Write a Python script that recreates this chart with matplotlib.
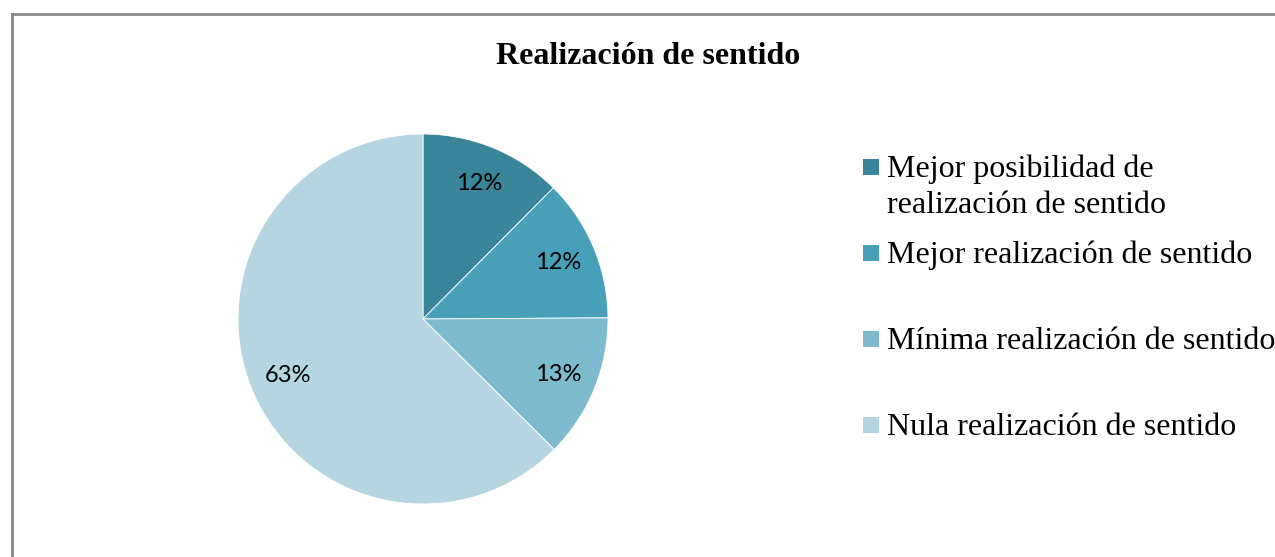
import matplotlib.pyplot as plt
from matplotlib.patches import Rectangle

title = 'Realización de sentido'
categories = ['Mejor posibilidad de\nrealización de sentido',
              'Mejor realización de sentido',
              'Mínima realización de sentido',
              'Nula realización de sentido']
values = [12.45, 12.45, 12.55, 62.55]
colors = ['#3a8599', '#47a0b8', '#7dbace', '#b5d5e0']

W, H = 1275, 557
fig = plt.figure(figsize=(W / 100, H / 100), dpi=100)

# pie axes: center (423, 319) px, radius 185 px
cx, cy, r = 423, 319, 185
ax = fig.add_axes([(cx - r) / W, (H - cy - r) / H, 2 * r / W, 2 * r / H])
ax.pie(values, colors=colors, startangle=90, counterclock=False,
       autopct='%.0f%%', pctdistance=0.79,
       wedgeprops=dict(edgecolor='white', linewidth=0.6),
       textprops=dict(fontsize=17, family='Lato', color='black'))
ax.set_xlim(-1, 1)
ax.set_ylim(-1, 1)

fig.text(648 / W, 1 - 64 / H, title, ha='center', va='baseline',
         fontsize=23, fontweight='bold', family='Liberation Serif')

# legend drawn by hand to match the uneven spacing of the original
square_y = [167, 253, 339, 425]
line_step = 36
for lab, col, sy in zip(categories, colors, square_y):
    fig.patches.append(Rectangle((863 / W, 1 - (sy + 8) / H), 16 / W, 16 / H,
                                 transform=fig.transFigure, facecolor=col,
                                 edgecolor='none'))
    for i, line in enumerate(lab.split('\n')):
        fig.text(887 / W, 1 - (sy + 10 + i * line_step) / H, line,
                 ha='left', va='baseline', fontsize=23,
                 family='Liberation Serif')

# chart border (top and left visible)
fig.add_artist(plt.Line2D([11.5 / W, 11.5 / W], [0, 1 - 13.5 / H],
                          transform=fig.transFigure, color='#888888', lw=2))
fig.add_artist(plt.Line2D([11.5 / W, 1], [1 - 13.5 / H, 1 - 13.5 / H],
                          transform=fig.transFigure, color='#888888', lw=2))

fig.savefig('out.png', dpi=100)
